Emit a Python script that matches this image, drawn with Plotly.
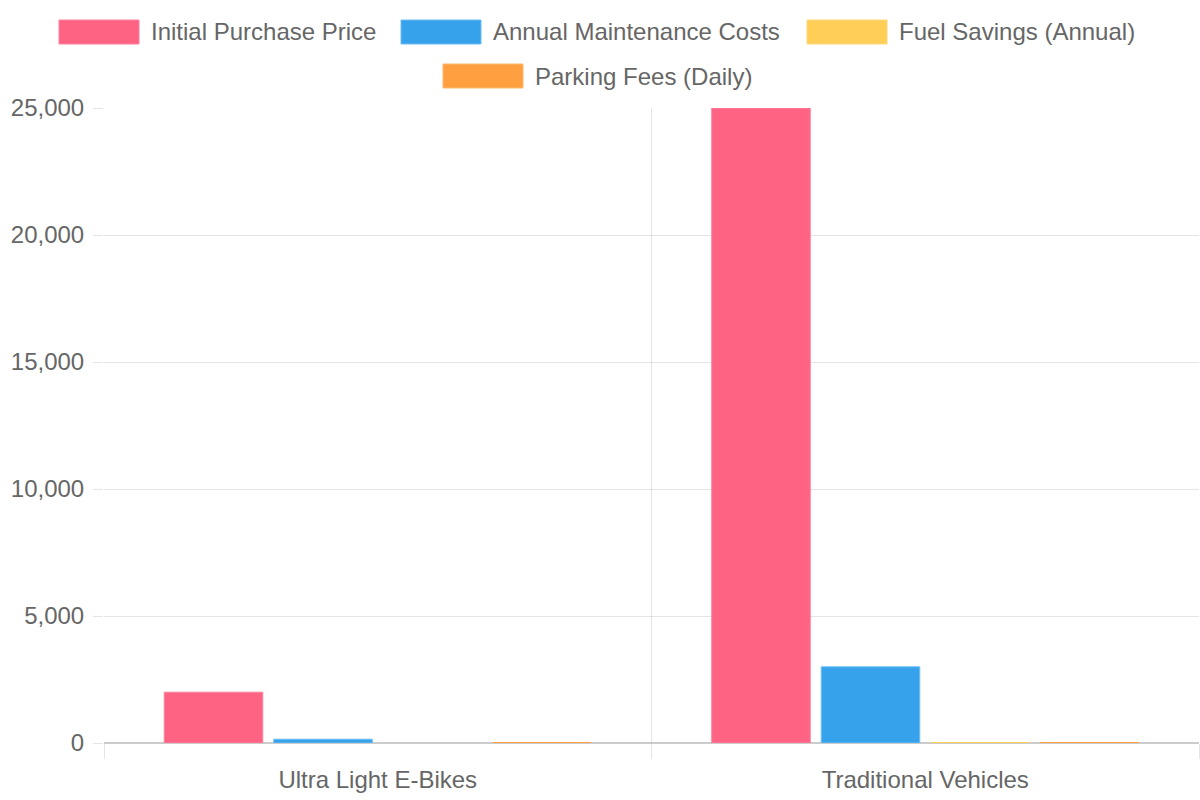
import plotly.graph_objects as go

categories = ["Ultra Light E-Bikes", "Traditional Vehicles"]
series_names = ["Initial Purchase Price", "Annual Maintenance Costs", "Fuel Savings (Annual)", "Parking Fees (Daily)"]
initial_price = [2000, 25000]
maintenance = [150, 3000]
fuel_savings = [0, 20]
parking_fees = [15, 20]
y_ticks = [0, 5000, 10000, 15000, 20000, 25000]

fills = ["rgba(255,99,132,1)", "rgba(54,162,235,1)", "rgba(255,206,86,1)", "rgba(255,159,64,1)"]
borders = ["rgba(255,130,155,1)", "rgba(110,190,245,1)", "rgba(255,215,120,1)", "rgba(255,185,110,1)"]

W, H = 1200, 800
L, R, T, B = 104, 1, 108, 57
pw, ph = W - L - R, H - T - B

def px(x):
    return (x - L) / pw

def py(y):
    return (H - B - y) / ph

fig = go.Figure()
values = [initial_price, maintenance, fuel_savings, parking_fees]
for name, vals, f, b in zip(series_names, values, fills, borders):
    fig.add_trace(go.Bar(x=categories, y=vals, name=name,
                         marker=dict(color=f, line=dict(color=b, width=[1 if v > 100 else 0 for v in vals])),
                         showlegend=False))

# invisible trace for overlay axis (category boundary grid)
fig.add_trace(go.Scatter(x=[-0.5, 1.5], y=[0, 0], xaxis="x2", mode="markers",
                         marker=dict(opacity=0), showlegend=False, hoverinfo="skip"))

font = "Liberation Sans, Arial, Helvetica, sans-serif"
grid = "rgba(0,0,0,0.1)"
fs = 24

fig.update_layout(
    width=W, height=H,
    margin=dict(l=L, r=R, t=T, b=B),
    paper_bgcolor="white", plot_bgcolor="white",
    barmode="group", bargap=0.2, bargroupgap=0.1,
    font=dict(family=font, size=fs, color="#666"),
    xaxis=dict(type="category", range=[-0.5, 1.5], showgrid=False, showline=False, ticks="",
               tickfont=dict(size=fs, color="#666"), ticklabelstandoff=20),
    xaxis2=dict(overlaying="x", range=[-0.5, 1.5], tickvals=[-0.5, 0.5, 1.5], showticklabels=False,
                showgrid=True, gridcolor=grid, ticks="outside", ticklen=15, tickcolor=grid,
                zeroline=False, showline=False, side="bottom"),
    yaxis=dict(range=[0, 25000], tickvals=y_ticks, tickformat=",", showgrid=True, gridcolor=grid,
               ticks="outside", ticklen=10, tickcolor=grid, zeroline=True, zerolinecolor="rgba(0,0,0,0.2)",
               zerolinewidth=2, showline=False, tickfont=dict(size=fs, color="#666"), ticklabelstandoff=4),
    hovermode="closest",
)

# custom legend (Chart.js style wide boxes)
legend_pos = [(59, 32), (401, 32), (807, 32), (443, 76)]
shapes = []
annotations = []
for (x0, yc), name, f, b in zip(legend_pos, series_names, fills, borders):
    shapes.append(dict(type="rect", xref="paper", yref="paper",
                       x0=px(x0), x1=px(x0 + 80), y0=py(yc - 12), y1=py(yc + 12),
                       fillcolor=f, line=dict(color=b, width=1)))
    annotations.append(dict(xref="paper", yref="paper", x=px(x0 + 90), y=py(yc), text=name,
                            showarrow=False, xanchor="left", yanchor="middle",
                            font=dict(size=fs, color="#666", family=font)))
fig.update_layout(shapes=shapes, annotations=annotations)

fig.write_html("out.html")
